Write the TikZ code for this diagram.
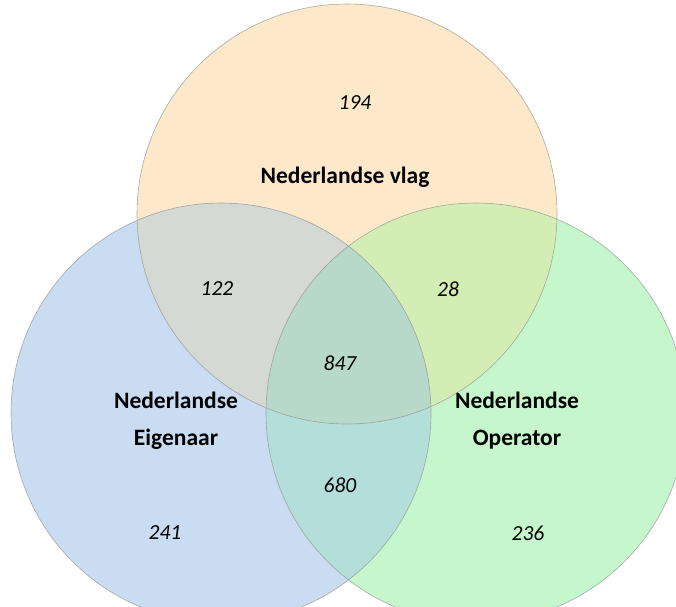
\documentclass[tikz,border=0pt]{standalone}
\usepackage{fontspec}
\setmainfont{Carlito}
\definecolor{vlagfill}{HTML}{FDE9C9}
\definecolor{eigfill}{HTML}{CADCF1}
\definecolor{opfill}{HTML}{C6F7CC}
\definecolor{vlageigfill}{HTML}{D4D9D3}
\definecolor{vlagopfill}{HTML}{D4EDB5}
\definecolor{eigopfill}{HTML}{B4DEDA}
\definecolor{allfill}{HTML}{B8D9CA}
\tikzstyle{set}=[circle, minimum size=420pt, inner sep=0pt]
\tikzstyle{rim}=[draw=black!45, line width=0.6pt, draw opacity=0.7]
\tikzstyle{setname}=[align=center, font=\bfseries\fontsize{23.5}{37}\selectfont]
\tikzstyle{amount}=[font=\itshape\fontsize{21.5}{24}\selectfont]

\begin{document}
\begin{tikzpicture}[x=1pt,y=-1pt]
      \useasboundingbox (0,0) rectangle (676,606);
      \clip (0,0) rectangle (676,606);
      \fill[white] (0,0) rectangle (676,606);
      % the three sets
      \node[set, fill=vlagfill] (vlag) at (347,214) {};
      \node[set, fill=eigfill] (eig) at (221,413) {};
      \node[set, fill=opfill] (op) at (476,413) {};
      % overlaps
      \begin{scope}
        \clip (vlag.center) circle (210pt);
        \fill[vlageigfill] (eig.center) circle (210pt);
        \fill[vlagopfill] (op.center) circle (210pt);
      \end{scope}
      \begin{scope}
        \clip (eig.center) circle (210pt);
        \fill[eigopfill] (op.center) circle (210pt);
        \clip (vlag.center) circle (210pt);
        \fill[allfill] (op.center) circle (210pt);
      \end{scope}
      \draw[rim] (vlag.center) circle (210pt);
      \draw[rim] (eig.center) circle (210pt);
      \draw[rim] (op.center) circle (210pt);
      % set names
      \node[setname] (vlagname) at (345,177) {Nederlandse vlag};
      \node[setname] (eigname) at (176,421) {Nederlandse\\Eigenaar};
      \node[setname] (opname) at (517,421) {Nederlandse\\Operator};
      % counts
      \node[amount] (nvlag) at (355,103) {194};
      \node[amount] (nvlageig) at (217,289) {122};
      \node[amount] (nvlagop) at (448,289) {28};
      \node[amount] (nall) at (340,363) {847};
      \node[amount] (neigop) at (340,485) {680};
      \node[amount] (neig) at (165,533) {241};
      \node[amount] (nop) at (528,533) {236};
    \end{tikzpicture}
\end{document}
